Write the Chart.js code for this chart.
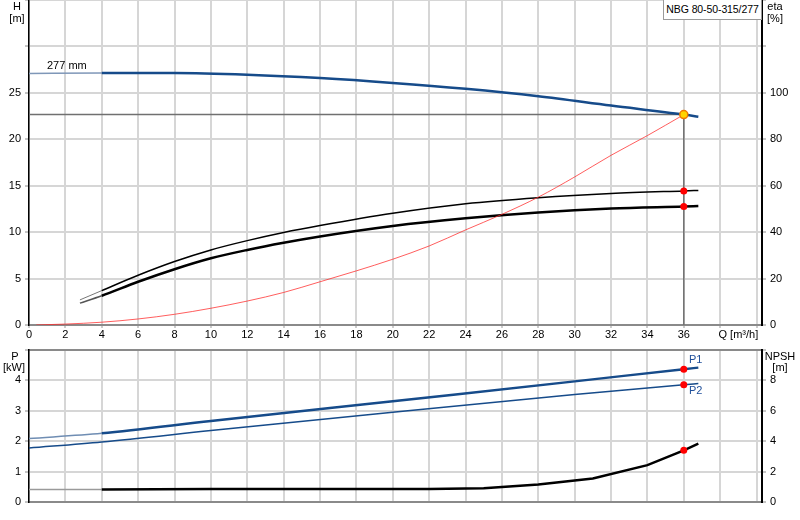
<!DOCTYPE html>
<html><head><meta charset="utf-8">
<script src="https://cdn.jsdelivr.net/npm/chart.js@4/dist/chart.umd.min.js"></script>
<style>
html,body{margin:0;padding:0;background:#fff;width:800px;height:520px;overflow:hidden;position:relative;font-family:"Liberation Sans",Arial,Helvetica,sans-serif;}
.wrap{position:absolute;}
.t{position:absolute;font-size:11px;line-height:12px;color:#000;white-space:nowrap;z-index:5;}
.c{text-align:center;width:40px;}
#leg{position:absolute;left:663px;top:-1px;width:97px;height:19px;border:1px solid #9a9a9a;background:#fff;font-size:10.5px;line-height:18px;text-align:center;z-index:6;color:#000;white-space:nowrap;overflow:visible;letter-spacing:-0.1px;}
</style></head><body>
<div id="w1" class="wrap" style="left:0px;top:0px;width:800px;height:360px"><canvas id="c1"></canvas></div>
<div id="w2" class="wrap" style="left:0px;top:340px;width:800px;height:180px"><canvas id="c2"></canvas></div>

<div class="t c" style="left:-3px;top:0px">H</div>
<div class="t c" style="left:-3px;top:12px">[m]</div>
<div class="t c" style="left:755px;top:0px">eta</div>
<div class="t c" style="left:755px;top:12px">[%]</div>
<div class="t c" style="left:-5px;top:350px">P</div>
<div class="t c" style="left:-6px;top:361px">[kW]</div>
<div class="t c" style="left:760px;top:350px">NPSH</div>
<div class="t c" style="left:760px;top:361px">[m]</div>
<div id="leg">NBG 80-50-315/277</div>
<div id="lblD" class="t">277 mm</div>
<div id="lblP1" class="t" style="color:#1f4f9a">P1</div>
<div id="lblP2" class="t" style="color:#1f4f9a">P2</div>

<script>
// ---------- data ----------
const Q_MAX = 40.3;
const X_TICKS = [0,2,4,6,8,10,12,14,16,18,20,22,24,26,28,30,32,34,36,38,39,40];
const X_LABEL_MAX = 36;
const X_TITLE_AT = 39;
const X_TITLE = 'Q [m³/h]';

const H_TICKS_MAX = 25;   // labelled H ticks 0..25
const ETA_TICKS_MAX = 100;
const P_TICKS_MAX = 4;
const NPSH_TICKS_MAX = 8;

const DIAMETER = '277 mm';
const DUTY_Q = 36;
const DUTY_H = 22.63;

// head curve
const Q_H = [0, 4, 8, 12, 16, 20, 24, 28, 32, 36, 36.8];
const H_CURVE = [27.05, 27.1, 27.1, 26.92, 26.56, 26.04, 25.4, 24.6, 23.6, 22.63, 22.4];

// red thin curve (eta axis)
const Q_RED = [0.4, 2, 4, 6, 8, 10, 12, 14, 16, 18, 20, 22, 24, 26, 28, 30, 32, 34, 36];
const ETA_RED = [0, 0.4, 1.2, 2.6, 4.6, 7.2, 10.3, 14.0, 18.6, 23.3, 28.3, 34, 40.9, 47.6, 55, 63.7, 73, 81.5, 90.5];

// efficiency curves
const Q_E = [2.8, 4, 6, 8, 10, 12, 14, 16, 20, 24, 28, 32, 36, 36.8];
const ETA_PUMP = [10.8, 14.8, 21.4, 27.3, 32.3, 36.3, 39.8, 42.8, 48.1, 52.2, 54.8, 56.6, 57.7, 57.9];
const ETA_TOTAL = [9.4, 12.6, 18.6, 24.0, 28.7, 32.3, 35.4, 38.1, 42.6, 45.9, 48.4, 50.1, 51.0, 51.2];

// power curves
const Q_P = [0, 4, 10, 20, 30, 36, 36.8];
const P1 = [2.09, 2.26, 2.66, 3.31, 3.96, 4.36, 4.41];
const P2 = [1.78, 1.98, 2.35, 2.95, 3.53, 3.85, 3.89];

// NPSH curve
const Q_N = [0, 4, 10, 16, 22, 25, 28, 31, 34, 36, 36.8];
const NPSH = [0.84, 0.85, 0.87, 0.88, 0.88, 0.93, 1.17, 1.56, 2.44, 3.41, 3.85];

// ---------- helpers ----------
Chart.defaults.font.family = '"Liberation Sans", Arial, Helvetica, sans-serif';
Chart.defaults.font.size = 11;
Chart.defaults.color = '#000';

const GRID = '#d6d6d6';
const BLUE = '#164b8a';
const pts = (xs, ys) => xs.map((x, i) => ({x: x, y: ys[i]}));
const at = (xs, ys, q) => ys[xs.indexOf(q)];

function curve(xs, ys, axis, color, width, extra) {
  return Object.assign({
    data: pts(xs, ys), yAxisID: axis, borderColor: color, borderWidth: width,
    pointRadius: 0, fill: false, cubicInterpolationMode: 'monotone'
  }, extra || {});
}
function dots(list, axis, fill, stroke, r, bw) {
  return {
    data: list, yAxisID: axis, showLine: false, pointRadius: r, pointHoverRadius: r,
    pointBackgroundColor: fill, pointBorderColor: stroke, pointBorderWidth: bw,
    borderColor: stroke, backgroundColor: fill
  };
}
const faded = (color, w) => ({
  borderColor: c => c.p0.parsed.x < 3.9 ? color : undefined,
  borderWidth: c => c.p0.parsed.x < 3.9 ? w : undefined
});

function xScale(showLabels) {
  return {
    type: 'linear', min: 0, max: Q_MAX,
    afterBuildTicks: s => { s.ticks = X_TICKS.map(v => ({value: v})); },
    ticks: {
      display: showLabels, autoSkip: false, maxRotation: 0, minRotation: 0, padding: 1,
      font: {size: 11, lineHeight: 1},
      callback: v => v === X_TITLE_AT ? X_TITLE : (v <= X_LABEL_MAX ? String(v) : '')
    },
    grid: {
      color: c => (c.tick && c.tick.value === X_TITLE_AT) ? 'rgba(0,0,0,0)' : GRID,
      tickColor: c => (c.tick && c.tick.value === X_TITLE_AT) ? 'rgba(0,0,0,0)' : '#999',
      lineWidth: 2, tickWidth: 1, drawTicks: showLabels, tickLength: 3
    },
    border: {color: '#8a8a8a', width: 2},
    afterFit: s => { s.height = showLabels ? 20 : 0; }
  };
}
function yScale(pos, min, max, step, labelMax, width, grid) {
  return {
    type: 'linear', position: pos, min: min, max: max,
    ticks: {stepSize: step, padding: 4, font: {size: 11}, callback: v => v <= labelMax ? String(v) : ''},
    grid: {display: true, drawOnChartArea: grid, color: GRID, lineWidth: 2, tickLength: 4, tickColor: '#8a8a8a', tickWidth: 1},
    border: {color: '#000', width: pos === 'left' ? 1.5 : 2},
    afterFit: s => { s.width = width; }
  };
}

const baseOptions = {
  responsive: true, maintainAspectRatio: false, animation: false, events: [],
  plugins: {legend: {display: false}, tooltip: {enabled: false}},
  layout: {padding: {left: 0, right: 0, top: 0, bottom: 0}}
};

// ---------- top chart ----------
const chart1 = new Chart(document.getElementById('c1'), {
  type: 'line',
  data: {datasets: [
    dots([{x: DUTY_Q, y: DUTY_H}], 'y', '#ffd400', '#f07800', 4, 1.5),
    dots([{x: DUTY_Q, y: at(Q_E, ETA_PUMP, DUTY_Q)}, {x: DUTY_Q, y: at(Q_E, ETA_TOTAL, DUTY_Q)}], 'eta', '#ff0000', '#ff0000', 3.5, 0),
    curve(Q_H, H_CURVE, 'y', BLUE, 2.5, {segment: faded('#7f97b8', 1.5)}),
    curve(Q_RED, ETA_RED, 'eta', 'rgba(255,40,40,0.75)', 1),
    curve(Q_E, ETA_PUMP, 'eta', '#000', 1.5, {segment: faded('#777', 1)}),
    curve(Q_E, ETA_TOTAL, 'eta', '#000', 2.5, {segment: faded('#555', 1.5)}),
    {data: [{x: 0, y: DUTY_H}, {x: DUTY_Q, y: DUTY_H}, {x: DUTY_Q, y: 0}], yAxisID: 'y',
     borderColor: '#707070', borderWidth: 1.5, pointRadius: 0, tension: 0, fill: false}
  ]},
  options: Object.assign({}, baseOptions, {
    scales: {
      x: xScale(true),
      y: yScale('left', 0, 35, 5, H_TICKS_MAX, 29, true),
      eta: yScale('right', 0, 140, 20, ETA_TICKS_MAX, 38, false)
    }
  })
});

// ---------- bottom chart ----------
const chart2 = new Chart(document.getElementById('c2'), {
  type: 'line',
  data: {datasets: [
    dots([{x: DUTY_Q, y: at(Q_P, P1, DUTY_Q)}, {x: DUTY_Q, y: at(Q_P, P2, DUTY_Q)}], 'p', '#ff0000', '#ff0000', 3.5, 0),
    dots([{x: DUTY_Q, y: at(Q_N, NPSH, DUTY_Q)}], 'npsh', '#ff0000', '#ff0000', 3.5, 0),
    curve(Q_P, P1, 'p', BLUE, 2.5, {segment: faded('#6f8db3', 1.5)}),
    curve(Q_P, P2, 'p', BLUE, 1.5),
    curve(Q_N, NPSH, 'npsh', '#000', 2.5, {tension: 0, cubicInterpolationMode: 'default', segment: faded('#9a9a9a', 1.5)})
  ]},
  options: Object.assign({}, baseOptions, {
    layout: {padding: {left: 0, right: 0, top: 0, bottom: 8}},
    scales: {
      x: xScale(false),
      xTop: {type: 'linear', position: 'top', min: 0, max: Q_MAX,
             ticks: {display: false}, grid: {display: false, drawTicks: false},
             border: {display: true, color: '#8a8a8a', width: 2},
             afterFit: s => { s.height = 0; }},
      p: yScale('left', 0, 5, 1, P_TICKS_MAX, 29, true),
      npsh: yScale('right', 0, 10, 2, NPSH_TICKS_MAX, 38, false)
    }
  })
});

// ---------- place plot areas ----------
function place(chart, wrap, L, T, R, B) {
  for (let k = 0; k < 2; k++) {
    const a = chart.chartArea;
    const w = Math.round(wrap.clientWidth + (R - L) - (a.right - a.left));
    const h = Math.round(wrap.clientHeight + (B - T) - (a.bottom - a.top));
    wrap.style.width = w + 'px'; wrap.style.height = h + 'px';
    chart.resize();
  }
  const a = chart.chartArea;
  wrap.style.left = Math.round(L - a.left) + 'px';
  wrap.style.top = Math.round(T - a.top) + 'px';
}
const w1 = document.getElementById('w1'), w2 = document.getElementById('w2');
place(chart1, w1, 29, 0, 762, 325);
place(chart2, w2, 29, 350, 762, 503);

function pageX(chart, wrap, v) { return parseFloat(wrap.style.left) + chart.scales.x.getPixelForValue(v); }
function pageY(chart, wrap, axis, v) { return parseFloat(wrap.style.top) + chart.scales[axis].getPixelForValue(v); }
function put(id, x, y) { const e = document.getElementById(id); e.style.left = Math.round(x) + 'px'; e.style.top = Math.round(y) + 'px'; }

put('lblD', pageX(chart1, w1, 1), pageY(chart1, w1, 'y', H_CURVE[0]) - 15);
put('lblP1', pageX(chart2, w2, DUTY_Q) + 5, pageY(chart2, w2, 'p', at(Q_P, P1, DUTY_Q)) - 16);
put('lblP2', pageX(chart2, w2, DUTY_Q) + 5, pageY(chart2, w2, 'p', at(Q_P, P2, DUTY_Q)) - 1);
</script>
</body></html>
